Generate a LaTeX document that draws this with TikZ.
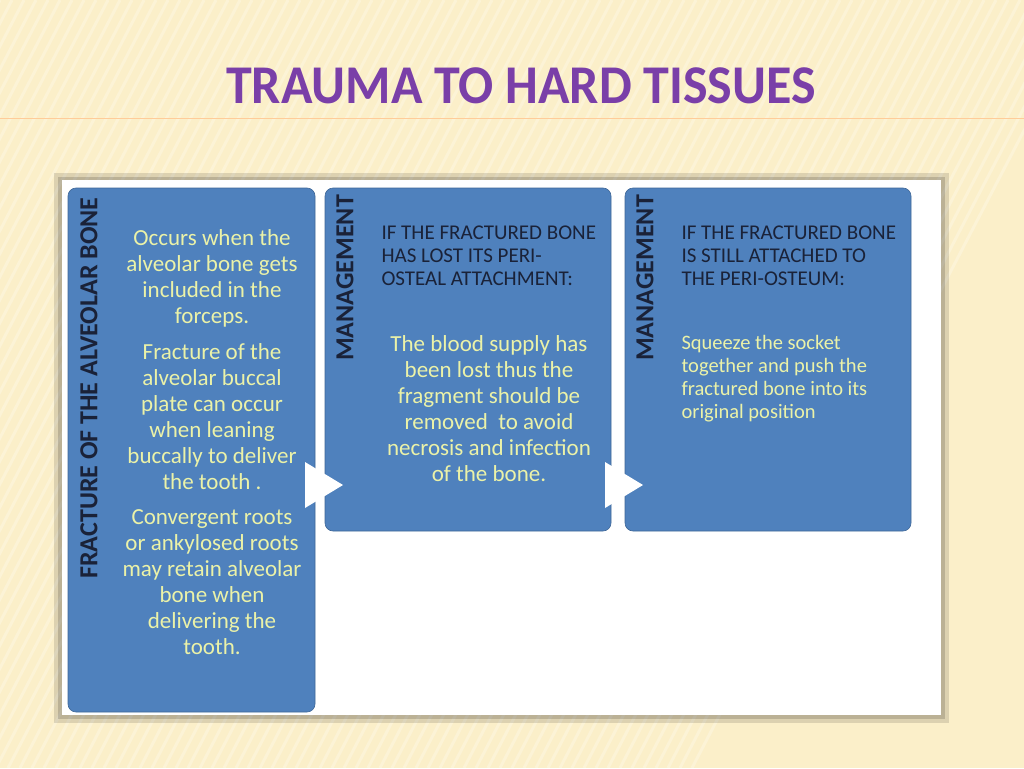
\documentclass[tikz,border=0pt]{standalone}
\usepackage{fontspec}
\setmainfont{Carlito}
\begin{document}
\begin{tikzpicture}[x=1pt,y=-1pt,
  box/.style={fill=boxblue,rounded corners=8pt,draw=boxblue!80!black,line width=0.6pt},
  tx/.style={text=txtgreen,font=\fontsize{23}{26}\selectfont,align=center},
  hd/.style={text=navy,font=\fontsize{21}{23}\selectfont,align=left,anchor=north west},
  side/.style={text=navy,font=\bfseries\fontsize{26}{28}\selectfont,rotate=90},
  tri/.style={fill=white,draw=none}]
\definecolor{bg}{HTML}{FBEFC9}
\definecolor{boxblue}{HTML}{4F81BD}
\definecolor{txtgreen}{HTML}{EBF2A8}
\definecolor{navy}{HTML}{1A2238}
\definecolor{ttl}{HTML}{7A3FA8}
\useasboundingbox (0,0) rectangle (1024,768);
\fill[bg] (0,0) rectangle (1024,768);
\foreach \i in {0,12,...,1100}{\draw[white,opacity=0.25,line width=3pt] (\i,0) -- (\i-400,768);}
\node[text=ttl,font=\bfseries\fontsize{52}{56}\selectfont,xscale=1.0,yscale=1.05] (title) at (521,86) {TRAUMA TO HARD TISSUES};
\draw[orange!40,line width=0.7pt] (0,118) -- (1024,118);
\fill[black,opacity=0.12] (54,173) rectangle (949,723);
\fill[black,opacity=0.15] (58,177) rectangle (945,719);
\node[fill=white,minimum width=879,minimum height=535,inner sep=0,anchor=north west] (panel) at (62,180) {};
\draw[box] (68,188) rectangle (315,712);
\draw[box] (325,188) rectangle (611,531);
\draw[box] (625,188) rectangle (911,531);
\node[side] (s1) at (89,388) {FRACTURE OF THE ALVEOLAR BONE};
\node[side] (s2) at (345,278) {MANAGEMENT};
\node[side] (s3) at (645,278) {MANAGEMENT};
\node[tx,anchor=north] (a1) at (212,226) {Occurs when the\\alveolar bone gets\\included in the\\forceps.};
\node[tx,anchor=north] (a2) at (212,340) {Fracture of the\\alveolar buccal\\plate can occur\\when leaning\\buccally to deliver\\the tooth .};
\node[tx,anchor=north] (a3) at (212,506) {Convergent roots\\or ankylosed roots\\may retain alveolar\\bone when\\delivering the\\tooth.};
\node[hd] (h2) at (378,222) {IF THE FRACTURED BONE\\HAS LOST ITS PERI-\\OSTEAL ATTACHMENT:};
\node[tx,anchor=north] (b2) at (489,332) {The blood supply has\\been lost thus the\\fragment should be\\removed~ to avoid\\necrosis and infection\\of the bone.};
\node[hd] (h3) at (678,222) {IF THE FRACTURED BONE\\IS STILL ATTACHED TO\\THE PERI-OSTEUM:};
\node[hd,text=txtgreen,font=\fontsize{20.5}{23}\selectfont] (b3) at (678,332) {Squeeze the socket\\together and push the\\fractured bone into its\\original position};
\fill[tri] (305,462) -- (343,485) -- (305,508) -- cycle;
\fill[tri] (605,462) -- (643,485) -- (605,508) -- cycle;
\end{tikzpicture}
\end{document}
